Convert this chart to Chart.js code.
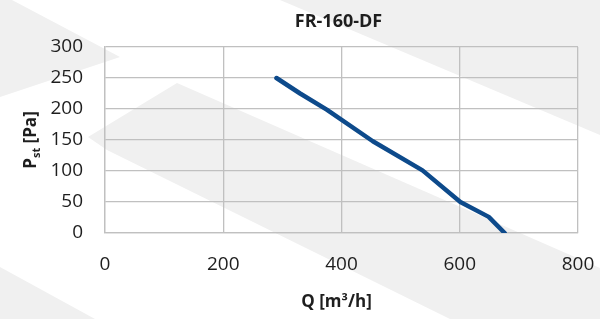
<!DOCTYPE html>
<html>
<head>
<meta charset="utf-8">
<script src="https://cdn.jsdelivr.net/npm/chart.js@4.4.1/dist/chart.umd.min.js"></script>
<style>
  html, body { margin: 0; padding: 0; background: #ffffff; }
  #wrap { width: 600px; height: 319px; position: relative; }
</style>
</head>
<body>
<div id="wrap"><canvas id="c" width="600" height="319"></canvas></div>
<script>
// ---- data ----
const chartTitle = "FR-160-DF";
const xTitle = "Q [m³/h]";
const flowQ = [290, 330, 375, 453, 537, 601, 649, 676];      // m³/h
const pressure = [250, 225, 199, 148, 101, 50, 26, 0];         // Pa
const xTicks = [0, 200, 400, 600, 800];
const yTicks = [0, 50, 100, 150, 200, 250, 300];

const FONT = "'Open Sans', 'Liberation Sans', sans-serif";
const GRID = "#c0c0c0";
const TEXT = "#1e1e1e";

const points = flowQ.map((q, i) => ({ x: q, y: pressure[i] }));

const watermark = {
  id: 'watermark',
  beforeDraw(chart) {
    const ctx = chart.ctx;
    ctx.save();
    ctx.fillStyle = '#f0f0f0';
    const polys = [
      [[280,0],[600,0],[600,135]],
      [[0,0],[12,0],[120,57],[0,97]],
      [[88,137],[177,83],[600,268],[600,319],[450,319],[107,150]],
      [[0,267],[95,319],[0,319]]
    ];
    polys.forEach(p => {
      ctx.beginPath();
      p.forEach((pt, i) => i ? ctx.lineTo(pt[0], pt[1]) : ctx.moveTo(pt[0], pt[1]));
      ctx.closePath();
      ctx.fill();
    });
    ctx.restore();
  }
};

const labels = {
  id: 'labels',
  afterDraw(chart) {
    const ctx = chart.ctx;
    const ca = chart.chartArea;
    const cx = (ca.left + ca.right) / 2;
    ctx.save();
    ctx.fillStyle = TEXT;
    ctx.textBaseline = 'middle';
    ctx.textAlign = 'center';
    // title
    ctx.font = `bold 18px ${FONT}`;
    ctx.fillText(chartTitle, cx - 3, 22);
    // x title
    ctx.font = `bold 17px ${FONT}`;
    ctx.fillText(xTitle, cx - 5, 302);
    // y title with subscript
    const cy = (ca.top + ca.bottom) / 2;
    ctx.translate(30, cy);
    ctx.rotate(-Math.PI / 2);
    ctx.textAlign = 'left';
    ctx.textBaseline = 'alphabetic';
    const big = `bold 17px ${FONT}`, small = `bold 11px ${FONT}`;
    ctx.font = big; const wP = ctx.measureText('P').width;
    ctx.font = small; const wS = ctx.measureText('st').width;
    ctx.font = big; const wR = ctx.measureText(' [Pa]').width;
    let x0 = -(wP + wS + wR) / 2;
    const base = 6;
    ctx.font = big; ctx.fillText('P', x0, base);
    ctx.font = small; ctx.fillText('st', x0 + wP, base + 4);
    ctx.font = big; ctx.fillText(' [Pa]', x0 + wP + wS, base);
    ctx.restore();
  }
};

new Chart(document.getElementById('c'), {
  type: 'line',
  data: {
    datasets: [{
      data: points,
      borderColor: '#0d4a8b',
      borderWidth: 4.5,
      pointRadius: 0,
      tension: 0,
      fill: false,
      borderCapStyle: 'round',
      borderJoinStyle: 'round'
    }]
  },
  options: {
    responsive: false,
    animation: false,
    layout: { padding: { top: 47, right: 22, left: 0, bottom: 0 } },
    plugins: {
      legend: { display: false },
      title: { display: false },
      tooltip: { enabled: false }
    },
    scales: {
      x: {
        type: 'linear',
        min: xTicks[0],
        max: xTicks[xTicks.length - 1],
        afterBuildTicks: s => { s.ticks = xTicks.map(v => ({ value: v })); },
        afterFit: s => { s.height = 86; s.paddingLeft = 0; s.paddingRight = 0; },
        grid: { color: GRID, lineWidth: 1.3, drawTicks: false },
        border: { color: GRID, width: 1.3 },
        ticks: { color: TEXT, padding: 20, font: { family: FONT, size: 19 }, maxRotation: 0 }
      },
      y: {
        type: 'linear',
        min: yTicks[0],
        max: yTicks[yTicks.length - 1],
        afterBuildTicks: s => { s.ticks = yTicks.map(v => ({ value: v })); },
        afterFit: s => { s.width = 105; s.paddingTop = 0; s.paddingBottom = 0; },
        grid: { color: GRID, lineWidth: 1.3, drawTicks: false },
        border: { color: GRID, width: 1.3 },
        ticks: { color: TEXT, padding: 22, font: { family: FONT, size: 19 } }
      }
    }
  },
  plugins: [watermark, labels]
});
</script>
</body>
</html>
